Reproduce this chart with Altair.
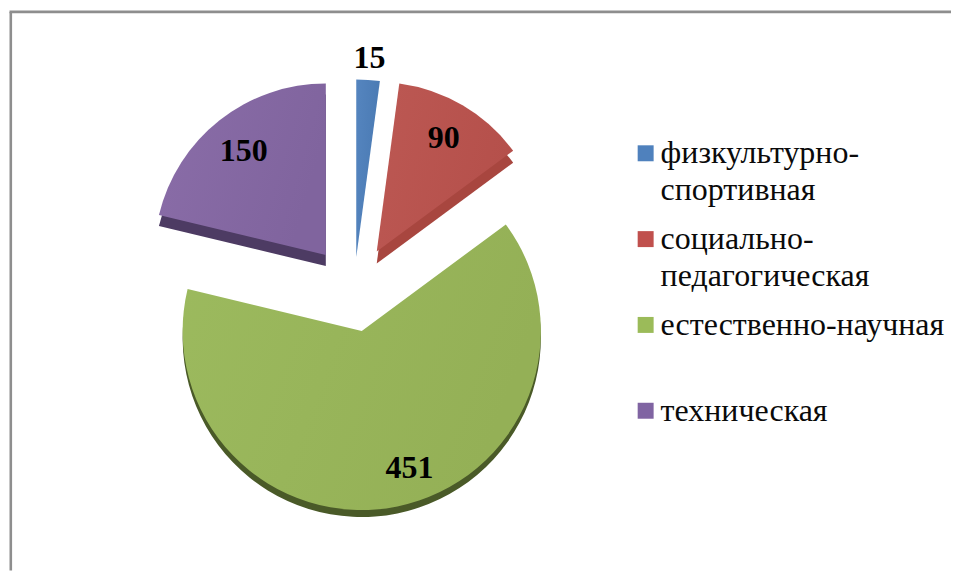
import math
import altair as alt
import pandas as pd

categories = ["физкультурно-спортивная", "социально-педагогическая", "естественно-научная", "техническая"]
values = [15, 90, 451, 150]
value_labels = ["15", "90", "451", "150"]
legend_lines = [["физкультурно-", "спортивная"], ["социально-", "педагогическая"], ["естественно-научная"], ["техническая"]]

# exploded-pie layout (chart pixels), one entry per slice
centers = [(349, 249), (369.5, 243.5), (354.5, 323), (318.5, 247)]
radii = [178, 170, 179.5, 172]
depths = [0, 12, 7, 11]
label_radius = [200, 132, 145, 133]
label_shift = [(0, 0), (0, 0), (19, -5), (0, 0)]
top_a = ["#5585BF", "#BC5853", "#9CBA5E", "#8A6DA8"]
top_b = ["#4A7AB3", "#B5504B", "#94B056", "#80649E"]
side = ["#3B6190", "#A8463F", "#4A5A28", "#4D3B63"]

total = sum(values)
starts, ends, run = [], [], 0
for v in values:
    starts.append(run)
    run += v
    ends.append(run)

df = pd.DataFrame({
    "category": categories,
    "value": values,
    "start": starts,
    "end": ends,
    "mid": [(a + b) / 2 for a, b in zip(starts, ends)],
    "label": value_labels,
    "lines": legend_lines,
})

theta_scale = alt.Scale(domain=[0, total], range=[0, 2 * math.pi])
theta = alt.Theta("start:Q", scale=theta_scale)
layers = []

# frame
layers.append(alt.Chart(df.head(1)).mark_rule(stroke="#8E8E8E", strokeWidth=2.6).encode(
    x=alt.value(2.8), y=alt.value(3.3), y2=alt.value(563)))
layers.append(alt.Chart(df.head(1)).mark_rule(stroke="#8E8E8E", strokeWidth=2.6).encode(
    x=alt.value(1.5), x2=alt.value(945), y=alt.value(3.3)))

for i, cat in enumerate(categories):
    (cx, cy) = centers[i]
    row = alt.Chart(df).transform_filter(alt.datum.category == cat)
    if depths[i]:
        layers.append(row.mark_arc(radius=radii[i], fill=side[i]).encode(
            theta=theta, theta2="end:Q", x=alt.value(cx), y=alt.value(cy + depths[i])))
    grad = alt.Gradient(gradient="linear", x1=0, y1=0, x2=1, y2=0.3, stops=[
        alt.GradientStop(color=top_a[i], offset=0), alt.GradientStop(color=top_b[i], offset=1)])
    layers.append(row.mark_arc(radius=radii[i], fill=grad).encode(
        theta=theta, theta2="end:Q", x=alt.value(cx), y=alt.value(cy)))

for i, cat in enumerate(categories):
    (cx, cy) = centers[i]
    row = alt.Chart(df).transform_filter(alt.datum.category == cat)
    layers.append(row.mark_text(radius=label_radius[i], dx=label_shift[i][0], dy=label_shift[i][1],
                                font="Liberation Serif", fontWeight="bold", fontSize=32, color="#000000",
                                align="center", baseline="middle").encode(
        theta=alt.Theta("mid:Q", scale=theta_scale), x=alt.value(cx), y=alt.value(cy), text="label:N"))

legend_y = alt.Y("category:N", sort=categories, axis=None, scale=alt.Scale(type="point", range=[145, 403], padding=0))
layers.append(alt.Chart(df).mark_square(size=256, opacity=1).encode(
    x=alt.value(639), y=legend_y,
    color=alt.Color("category:N", sort=categories, legend=None,
                    scale=alt.Scale(domain=categories, range=["#4F81BD", "#C0504D", "#9BBB59", "#8064A2"]))))
layers.append(alt.Chart(df).mark_text(font="Liberation Serif", fontSize=32, color="#0A0A0A", align="left",
                                      baseline="alphabetic", lineHeight=37, dy=10).encode(
    x=alt.value(654), y=legend_y, text="lines"))

chart = alt.layer(*layers).properties(
    width=945, height=563, padding=0, background="#FFFFFF"
).configure_view(stroke=None)

chart.save("out.html", embed_options={"renderer": "svg", "actions": False})
